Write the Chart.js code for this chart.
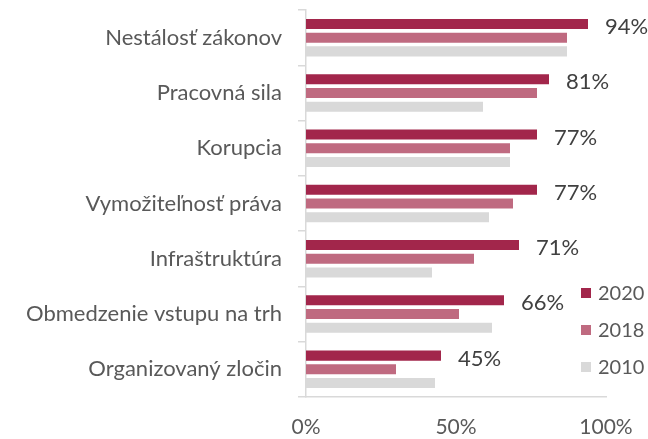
<!DOCTYPE html>
<html>
<head>
<meta charset="utf-8">
<script src="https://cdn.jsdelivr.net/npm/chart.js@4/dist/chart.umd.min.js"></script>
<style>
  html, body { margin: 0; padding: 0; background: #fff; }
  #wrap { width: 648px; height: 439px; position: relative; }
</style>
</head>
<body>
<div id="wrap"><canvas id="chart"></canvas></div>
<script>
// categories (top to bottom)
var categories = ['Nestálosť zákonov', 'Pracovná sila', 'Korupcia', 'Vymožiteľnosť práva',
                  'Infraštruktúra', 'Obmedzenie vstupu na trh', 'Organizovaný zločin'];
// series values in %
var values2020 = [94, 81, 77, 77, 71, 66, 45];
var values2018 = [87, 77, 68, 69, 56, 51, 30];
var values2010 = [87, 59, 68, 61, 42, 62, 43];
var seriesLabels = ['2020', '2018', '2010'];
var seriesColors = ['#A2264B', '#BF6A80', '#D9D9D9'];
var xTicks = [0, 50, 100];

var fontFamily = 'Lato, "Open Sans", sans-serif';
var textColor = '#595959';

// labels for the 2020 bars, written right of the bar end
var barLabels = {
  id: 'barLabels',
  afterDatasetsDraw(chart) {
    var ctx = chart.ctx;
    var meta = chart.getDatasetMeta(0);
    ctx.save();
    ctx.font = '22px ' + fontFamily;
    ctx.fillStyle = '#404040';
    ctx.textAlign = 'left';
    ctx.textBaseline = 'middle';
    meta.data.forEach((bar, i) => {
      ctx.fillText(values2020[i] + '%', bar.x + 17, bar.y + 3);
    });
    ctx.restore();
  }
};

// legend drawn at the lower right, partly outside the plot area
var sideLegend = {
  id: 'sideLegend',
  afterDraw(chart) {
    var ctx = chart.ctx;
    var x = 581, y = 293, step = 37;
    ctx.save();
    ctx.font = '20px ' + fontFamily;
    ctx.textAlign = 'left';
    ctx.textBaseline = 'middle';
    chart.data.datasets.forEach((ds, i) => {
      ctx.fillStyle = ds.backgroundColor;
      ctx.fillRect(x, y + i * step - 5, 10, 10);
      ctx.fillStyle = textColor;
      ctx.fillText(ds.label, x + 17, y + i * step + 1);
    });
    ctx.restore();
  }
};

var datasets = [values2020, values2018, values2010].map((vals, i) => ({
  label: seriesLabels[i],
  data: vals,
  backgroundColor: seriesColors[i],
  categoryPercentage: 0.745,
  barPercentage: 0.73
}));

new Chart(document.getElementById('chart'), {
  type: 'bar',
  data: { labels: categories, datasets: datasets },
  plugins: [barLabels, sideLegend],
  options: {
    indexAxis: 'y',
    responsive: true,
    maintainAspectRatio: false,
    animation: false,
    layout: { padding: { top: 10, right: 42, bottom: 0, left: 0 } },
    plugins: {
      legend: { display: false },
      tooltip: { enabled: false }
    },
    scales: {
      x: {
        min: 0,
        max: 100,
        afterBuildTicks: (scale) => { scale.ticks = xTicks.map(v => ({ value: v })); },
        afterFit: (scale) => {
          scale.height = 42;
          scale.paddingLeft = 0;
          scale.paddingRight = 0;
        },
        grid: { display: false, drawTicks: false },
        border: { display: true, color: '#D9D9D9', width: 1.5 },
        ticks: {
          padding: 18,
          color: textColor,
          font: { family: fontFamily, size: 21 },
          callback: (v) => v + '%'
        }
      },
      y: {
        // the label padding would otherwise push the plot top down
        afterFit: (scale) => {
          scale.width = 306;
          scale.paddingTop = 0;
          scale.paddingBottom = 0;
        },
        grid: { drawOnChartArea: false, drawTicks: true, tickLength: 8, color: '#D9D9D9', lineWidth: 1.5 },
        border: { display: true, color: '#D9D9D9', width: 1.5 },
        ticks: {
          padding: 16,
          color: textColor,
          font: { family: fontFamily, size: 22 }
        }
      }
    }
  }
});
</script>
</body>
</html>
